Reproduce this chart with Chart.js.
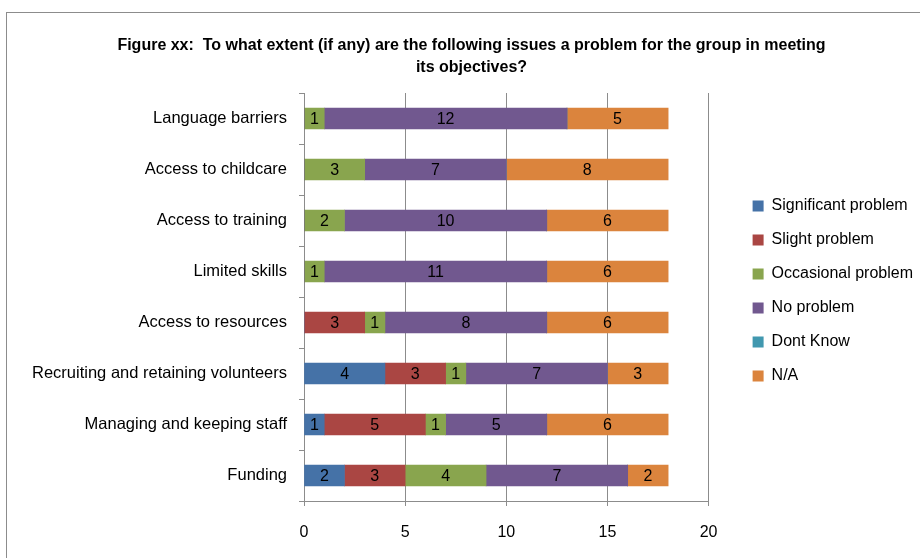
<!DOCTYPE html>
<html>
<head>
<meta charset="utf-8">
<script src="https://cdn.jsdelivr.net/npm/chart.js@4"></script>
<style>
  html, body { margin: 0; padding: 0; background: #fff; }
  #wrap { width: 920px; height: 558px; position: relative; }
</style>
</head>
<body>
<div id="wrap"><canvas id="myChart" width="920" height="558"></canvas></div>
<script>
var categories = [
    'Language barriers',
    'Access to childcare',
    'Access to training',
    'Limited skills',
    'Access to resources',
    'Recruiting and retaining volunteers',
    'Managing and keeping staff',
    'Funding'
];
var significant = [0, 0, 0, 0, 0, 4, 1, 2];
var slight      = [0, 0, 0, 0, 3, 3, 5, 3];
var occasional  = [1, 3, 2, 1, 1, 1, 1, 4];
var noProblem   = [12, 7, 10, 11, 8, 7, 5, 7];
var dontKnow    = [0, 0, 0, 0, 0, 0, 0, 0];
var na          = [5, 8, 6, 6, 6, 3, 6, 2];
var xTicks = [0, 5, 10, 15, 20];

var FONT = "'Liberation Sans', Arial, sans-serif";

// grey frame round the chart, like the original picture
var frame = {
    id: 'frame',
    beforeDraw: function (chart) {
        var c = chart.ctx;
        c.save();
        c.strokeStyle = '#8c8c8c';
        c.lineWidth = 1;
        c.strokeRect(6.5, 12.5, 2000, 2000);
        c.restore();
    }
};

// nudge legend and title after layout so they sit where the original has them
var nudge = {
    id: 'nudge',
    afterUpdate: function (chart) {
        if (chart.legend) {
            chart.legend.left += 26;
            chart.legend.right += 26;
            chart.legend.top += 2;
            chart.legend.bottom += 2;
        }
        if (chart.titleBlock) {
            chart.titleBlock.left += 20;
            chart.titleBlock.right += 20;
        }
    }
};

// numbers written inside each bar segment
var segLabels = {
    id: 'segLabels',
    afterDatasetsDraw: function (chart) {
        var c = chart.ctx;
        c.save();
        c.font = '16px ' + FONT;
        c.fillStyle = '#000';
        c.textAlign = 'center';
        c.textBaseline = 'middle';
        chart.data.datasets.forEach(function (ds, i) {
            var meta = chart.getDatasetMeta(i);
            if (meta.hidden) return;
            meta.data.forEach(function (bar, j) {
                var v = ds.data[j];
                if (!v) return;
                c.fillText(String(v), (bar.x + bar.base) / 2, bar.y + 1);
            });
        });
        c.restore();
    }
};

var ctx = document.getElementById('myChart').getContext('2d');
new Chart(ctx, {
    type: 'bar',
    data: {
        labels: categories,
        datasets: [
            { label: 'Significant problem', data: significant, backgroundColor: '#4572A7' },
            { label: 'Slight problem', data: slight, backgroundColor: '#AA4643' },
            { label: 'Occasional problem', data: occasional, backgroundColor: '#89A54E' },
            { label: 'No problem', data: noProblem, backgroundColor: '#71588F' },
            { label: 'Dont Know', data: dontKnow, backgroundColor: '#4198AF' },
            { label: 'N/A', data: na, backgroundColor: '#DB843D' }
        ]
    },
    options: {
        indexAxis: 'y',
        responsive: false,
        animation: false,
        datasets: { bar: { barThickness: 21, borderWidth: 0 } },
        layout: { padding: { left: 6, top: 20, right: 23, bottom: 0 } },
        scales: {
            x: {
                stacked: true,
                min: 0,
                max: 20,
                afterBuildTicks: function (scale) {
                    scale.ticks = xTicks.map(function (v) { return { value: v }; });
                },
                afterFit: function (scale) { scale.height = 57; },
                grid: { color: '#8c8c8c', tickLength: 5 },
                border: { color: '#8c8c8c' },
                ticks: { color: '#000', padding: 17, font: { family: FONT, size: 16 } }
            },
            y: {
                stacked: true,
                afterFit: function (scale) { scale.width = 298; },
                grid: { drawOnChartArea: false, color: '#8c8c8c', tickLength: 5, offset: true },
                border: { color: '#8c8c8c' },
                ticks: { color: '#000', padding: 12, font: { family: FONT, size: 16.5 } }
            }
        },
        plugins: {
            title: {
                display: true,
                text: ['Figure xx:  To what extent (if any) are the following issues a problem for the group in meeting',
                       'its objectives?'],
                color: '#000',
                font: { family: FONT, size: 16, weight: 'bold', lineHeight: 1.375 },
                padding: { top: 15, bottom: 14 }
            },
            legend: {
                position: 'right',
                labels: {
                    color: '#000',
                    boxWidth: 11,
                    boxHeight: 11,
                    padding: 18,
                    font: { family: FONT, size: 16 }
                }
            },
            tooltip: { enabled: false }
        }
    },
    plugins: [frame, nudge, segLabels]
});
</script>
</body>
</html>
